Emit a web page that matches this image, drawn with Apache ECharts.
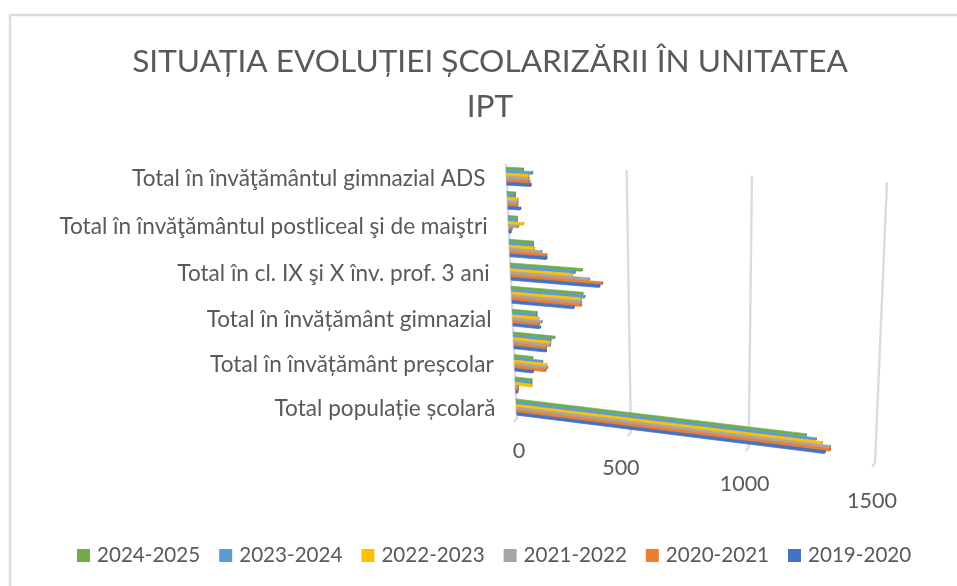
<!DOCTYPE html>
<html><head><meta charset="utf-8">
<style>html,body{margin:0;padding:0;background:#fff}#c{width:957px;height:586px}</style>
<script src="https://cdn.jsdelivr.net/npm/echarts@6/dist/echarts.min.js"></script>
</head><body><div id="c"></div>
<script>
const categories = ['Total populație școlară','','Total în învățământ preșcolar','','Total în învățământ gimnazial','','Total în cl. IX şi X înv. prof. 3 ani','','Total în învăţământul postliceal şi de maiştri','','Total în învăţământul gimnazial ADS'];
const xTicks = [0,500,1000,1500];
const s2024 = [1228,68,76,175,102,302,302,98,34,30,68];
const s2023 = [1268,68,119,158,102,310,272,98,34,30,106];
const s2022 = [1292,68,136,158,110,295,260,102,60,40,90];
const s2021 = [1324,8,140,155,123,295,332,132,38,40,90];
const s2020 = [1324,8,132,137,110,295,387,153,10,38,93];
const s2019 = [1304,4,76,137,115,263,375,153,5,50,98];
const seriesNames = ['2024-2025','2023-2024','2022-2023','2021-2022','2020-2021','2019-2020'];
const seriesData = [s2024,s2023,s2022,s2021,s2020,s2019];
const colors = ['#70ad47','#5b9bd5','#ffc000','#a5a5a5','#ed7d31','#4472c4'];
const caps = ['#5b8f39','#4a80b3','#d9a300','#858585','#c5651f','#355ca3'];
const FONT = 'Lato, "Open Sans", sans-serif';

const G = {l:100,t:100,w:600,h:300};
const Q = [[506,164],[887,182],[875,463],[517,418]]; // tl,tr,br,bl
function squareToQuad(q){
  const [x0,y0]=q[0],[x1,y1]=q[1],[x2,y2]=q[2],[x3,y3]=q[3];
  const dx1=x1-x2,dx2=x3-x2,sx=x0-x1+x2-x3,dy1=y1-y2,dy2=y3-y2,sy=y0-y1+y2-y3;
  const d=dx1*dy2-dx2*dy1;
  const g=(sx*dy2-dx2*sy)/d,h=(dx1*sy-sx*dy1)/d;
  return [x1-x0+g*x1,x3-x0+h*x3,x0,y1-y0+g*y1,y3-y0+h*y3,y0,g,h];
}
const H = squareToQuad(Q);
function proj(p){
  let u=(p[0]-G.l)/G.w;
  const v=(p[1]-G.t)/G.h;
  u=u+0.054*u*(1-u)*(1-u);
  const w=H[6]*u+H[7]*v+1;
  return [(H[0]*u+H[1]*v+H[2])/w,(H[3]*u+H[4]*v+H[5])/w];
}
const groupFrac = 0.74;
function barItem(si){
  return function(params,api){
    const cat=api.value(0),val=api.value(1);
    const c0=api.coord([0,cat]);
    const c1=api.coord([val,cat]);
    const band=api.size([0,1])[1];
    const bh=band*groupFrac/6;
    const top=c0[1]-band*groupFrac/2+bh*si;
    const a=proj([c0[0],top]),b=proj([c1[0],top]),c=proj([c1[0],top+bh]),d=proj([c0[0],top+bh]);
    return {type:'group',children:[
      {type:'polygon',shape:{points:[a,b,c,d]},style:{fill:colors[si],stroke:colors[si],lineWidth:0.7}},
      {type:'polygon',shape:{points:[b,[b[0]+1.5,b[1]-0.6],[c[0]+1.5,c[1]-0.6],c]},style:{fill:caps[si]}}
    ]};
  };
}
const series = seriesNames.map((n,si)=>({
  type:'custom',name:n,coordinateSystem:'cartesian2d',z:5+si,
  itemStyle:{color:colors[si]},
  renderItem:barItem(si),clip:false,silent:true,
  encode:{x:1,y:0},
  data:seriesData[si].map((v,i)=>[i,v])
}));
const tickDx=[2,-10,-4,-3], tickDy=[33,36,37,38];
series.push({
  type:'custom',coordinateSystem:'cartesian2d',z:1,silent:true,clip:false,
  renderItem(params,api){
    const v=api.value(0);
    const band=api.size([0,1])[1];
    const ct=api.coord([v,categories.length-1]), cb=api.coord([v,0]);
    const t=proj([ct[0],ct[1]-band/2]);
    const b=proj([cb[0],cb[1]+band/2]);
    const idx=xTicks.indexOf(v);
    return {type:'group',children:[
      {type:'polyline',shape:{points:[t,b,[b[0]-3,b[1]+4]]},style:{stroke:'#dcdcdc',lineWidth:2.4,fill:null}},
      {type:'text',style:{text:String(v),x:b[0]+tickDx[idx],y:b[1]+tickDy[idx],
        align:'center',verticalAlign:'middle',font:'21.5px '+FONT,fill:'#595959'}}
    ]};
  },
  data:xTicks.map(v=>[v,0]),encode:{x:0,y:1}
});
series.push({
  type:'custom',coordinateSystem:'cartesian2d',z:2,silent:true,clip:false,
  renderItem(params,api){
    const i=api.value(0);
    const p=proj(api.coord([0,i]));
    return {type:'text',style:{text:categories[i],x:p[0]-21,y:p[1]+2,align:'right',verticalAlign:'middle',font:'22.6px '+FONT,fill:'#595959'}};
  },
  data:categories.map((c,i)=>[i,0]),encode:{x:1,y:0}
});
const chart=echarts.init(document.getElementById('c'),null,{renderer:'canvas'});
chart.setOption({
  animation:false,backgroundColor:'#fff',
  title:{text:'SITUAȚIA EVOLUȚIEI ȘCOLARIZĂRII ÎN UNITATEA\nIPT',left:485,top:34,textAlign:'center',
    textStyle:{fontFamily:FONT,fontSize:31.6,fontWeight:'normal',color:'#595959',lineHeight:45}},
  legend:{data:seriesNames,left:72,top:540,itemWidth:13,itemHeight:13,itemGap:19,icon:'rect',
    textStyle:{fontFamily:FONT,fontSize:20.6,color:'#595959',padding:[0,0,0,2]}},
  grid:{left:G.l,top:G.t,width:G.w,height:G.h},
  xAxis:{type:'value',min:0,max:1500,interval:500,show:false},
  yAxis:{type:'category',data:categories,show:false},
  graphic:[{type:'polyline',silent:true,shape:{points:[[10,586],[10,15],[957,15]]},style:{stroke:'#dcdcdc',lineWidth:2.5,fill:null}}],
  series
});
</script></body></html>
